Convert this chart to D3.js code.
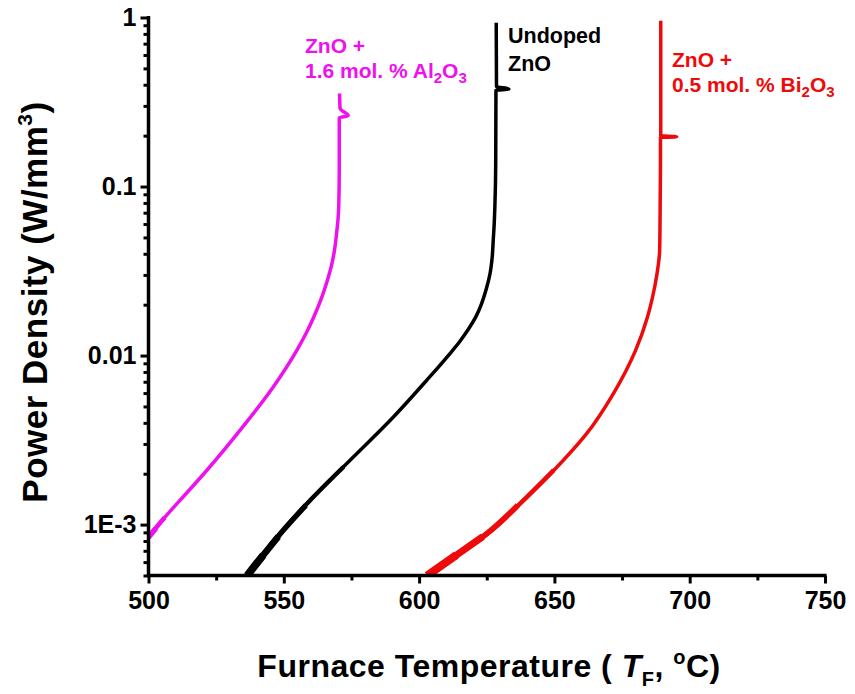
<!DOCTYPE html>
<html>
<head>
<meta charset="utf-8">
<script src="https://cdn.jsdelivr.net/npm/d3@7"></script>
<style>
  html, body { margin: 0; padding: 0; background: #fff; }
  text { font-family: Arial, "Liberation Sans", sans-serif; font-weight: bold; }
</style>
</head>
<body>
<svg id="chart" width="855" height="694"></svg>
<script>
// ---- data ----
const xTicksMajor = [500, 550, 600, 650, 700, 750];
const xTicksMinor = [525, 575, 625, 675, 725];
const yTicksMajor = [1, 0.1, 0.01, 0.001];
const yTickLabels = ["1", "0.1", "0.01", "1E-3"];

// ZnO + 1.6 mol.% Al2O3 (magenta)
const alTemp = [500, 505.5, 511.6, 521.5, 533.8, 546.1, 554.8, 558.2, 561.0, 563.6, 565.8, 567.5, 568.7, 569.5, 570.0, 570.3, 570.5, 570.5, 573.8, 570.8, 570.6];
const alPower = [0.00084, 0.00108, 0.00139, 0.00209, 0.00361, 0.00652, 0.01074, 0.0135, 0.0168, 0.0212, 0.0269, 0.0335, 0.0417, 0.0527, 0.0631, 0.0759, 0.13, 0.255, 0.262, 0.29, 0.355];

// Undoped ZnO (black)
const unTemp = [536.5, 541.4, 549.8, 560.9, 575.7, 590.5, 602.8, 611.4, 615.1, 618.2, 621.0, 623.1, 624.9, 626.2, 627.0, 627.4, 627.75, 628.0, 628.3, 628.4, 633.2, 628.6, 628.5];
const unPower = [0.0005, 0.00063, 0.000925, 0.001455, 0.00251, 0.00433, 0.00714, 0.01028, 0.01216, 0.0143, 0.0170, 0.0203, 0.0250, 0.0305, 0.0380, 0.0482, 0.0600, 0.0759, 0.13, 0.37, 0.378, 0.39, 0.93];

// ZnO + 0.5 mol.% Bi2O3 (red)
const biTemp = [603, 612.6, 625, 639.8, 652.1, 661.9, 671.8, 680.0, 684.4, 687.3, 688.3, 688.9, 689.1, 689.2, 689.2, 695.2, 689.3, 689.3];
const biPower = [0.0005, 0.000641, 0.000883, 0.001455, 0.00229, 0.00345, 0.00596, 0.01074, 0.01694, 0.0267, 0.0335, 0.042, 0.0832, 0.15, 0.195, 0.197, 0.2, 0.957];

const seriesNames = ["ZnO + 1.6 mol. % Al2O3", "Undoped ZnO", "ZnO + 0.5 mol. % Bi2O3"];
const seriesColors = ["#ee10ee", "#000000", "#ee0a0a"];
// low-signal (noisy) region: drawn as a band that thickens toward the bottom
const noiseLevels = [
  [[0.0011, 4.6], [0.00095, 5.4]],
  [[0.0022, 4.4], [0.0013, 5.4], [0.00085, 6.6], [0.00066, 7.6]],
  [[0.0021, 4.4], [0.0013, 5.6], [0.00085, 7.0], [0.00066, 8.2]]
];

// ---- scales ----
const svg = d3.select("#chart");
const x = d3.scaleLinear().domain([500, 750]).range([148.5, 825]);
const y = d3.scaleLog().domain([0.0005, 1]).range([575.5, 17.5]);

svg.append("defs").append("clipPath").attr("id", "plotClip")
  .append("rect").attr("x", 148.5).attr("y", 0).attr("width", 700).attr("height", 575.5);

// ---- curves ----
const series = [
  {t: alTemp, p: alPower},
  {t: unTemp, p: unPower},
  {t: biTemp, p: biPower}
];
const line = d3.line()
  .x(d => x(d[0])).y(d => y(d[1]))
  .curve(d3.curveMonotoneY);
const plot = svg.append("g").attr("clip-path", "url(#plotClip)");
series.forEach((s, i) => {
  const pts = s.t.map((t, k) => [t, s.p[k]]);
  plot.append("path")
    .attr("d", line(pts))
    .attr("fill", "none")
    .attr("stroke", seriesColors[i])
    .attr("stroke-width", 3.5)
    .attr("stroke-linejoin", "round")
    .attr("stroke-linecap", "butt");
  noiseLevels[i].forEach(([lim, w]) => {
    const low = pts.filter(d => d[1] <= lim);
    const next = pts.find(d => d[1] > lim);
    if (next && low.length) {
      const a = low[low.length - 1];
      const f = (Math.log(lim) - Math.log(a[1])) / (Math.log(next[1]) - Math.log(a[1]));
      low.push([a[0] + f * (next[0] - a[0]), lim]);
    }
    if (low.length > 1) {
      plot.append("path")
        .attr("d", line(low))
        .attr("fill", "none")
        .attr("stroke", seriesColors[i])
        .attr("stroke-width", w)
        .attr("stroke-linecap", "butt");
    }
  });
});

// ---- axes ----
const minorY = [];
[0.0001, 0.001, 0.01, 0.1].forEach(d => { for (let m = 2; m <= 9; m++) { const v = d * m; if (v >= 0.0005 && v < 1) minorY.push(v); } });

const yMinorAxis = d3.axisLeft(y).tickValues(minorY).tickSize(5).tickFormat("");
const yMajorAxis = d3.axisLeft(y).tickValues(yTicksMajor).tickSize(8).tickPadding(4)
  .tickFormat((d, i) => yTickLabels[i]);
const xMinorAxis = d3.axisBottom(x).tickValues(xTicksMinor).tickSize(5).tickFormat("");
const xMajorAxis = d3.axisBottom(x).tickValues(xTicksMajor).tickSize(8).tickPadding(8)
  .tickFormat(d3.format("d"));

function styleAxis(g) {
  g.select(".domain").remove();
  g.selectAll("line").attr("stroke", "#000").attr("stroke-width", 3);
  g.selectAll("text").attr("fill", "#000").style("font-size", "25px").style("font-family", "Arial, 'Liberation Sans', sans-serif").style("font-weight", "bold");
}
svg.append("g").attr("transform", "translate(148.5,0)").call(yMinorAxis).call(styleAxis);
svg.append("g").attr("transform", "translate(148.5,0)").call(yMajorAxis).call(styleAxis);
svg.append("g").attr("transform", "translate(0,575.5)").call(xMinorAxis).call(styleAxis);
svg.append("g").attr("transform", "translate(0,575.5)").call(xMajorAxis).call(styleAxis);

// axis lines
svg.append("line").attr("x1", 148.5).attr("x2", 148.5).attr("y1", 16).attr("y2", 577)
  .attr("stroke", "#000").attr("stroke-width", 3.5);
svg.append("line").attr("x1", 147).attr("x2", 826.5).attr("y1", 575.5).attr("y2", 575.5)
  .attr("stroke", "#000").attr("stroke-width", 3.5);

// ---- axis titles ----
const xt = svg.append("text").attr("x", 489).attr("y", 677).attr("text-anchor", "middle")
  .style("font-size", "32px").attr("letter-spacing", "0.5px");
xt.append("tspan").text("Furnace Temperature ( ");
xt.append("tspan").style("font-style", "italic").text("T");
xt.append("tspan").attr("dy", 9).style("font-size", "20px").text("F");
xt.append("tspan").attr("dy", -9).text(", ");
xt.append("tspan").attr("dy", -13).style("font-size", "20px").text("o");
xt.append("tspan").attr("dy", 13).text("C)");

const yt = svg.append("text").attr("transform", "translate(47,302) rotate(-90)").attr("text-anchor", "middle")
  .style("font-size", "35px").attr("letter-spacing", "0.5px");
yt.append("tspan").text("Power Density (W/mm");
yt.append("tspan").attr("dy", -15).style("font-size", "21px").text("3");
yt.append("tspan").attr("dy", 15).text(")");

// ---- annotations ----
function label(xp, yp, lines, color, fs) {
  lines.forEach((ln, li) => {
    const t = svg.append("text").attr("x", xp).attr("y", yp[li]).attr("fill", color).style("font-size", fs + "px");
    ln.forEach(part => {
      const ts = t.append("tspan").text(part.s);
      if (part.sub) ts.attr("dy", 5).style("font-size", "15px");
      if (part.back) ts.attr("dy", -5);
    });
  });
}
label(305, [53, 78], [
  [{s: "ZnO +"}],
  [{s: "1.6 mol. % Al"}, {s: "2", sub: true}, {s: "O", back: true}, {s: "3", sub: true}]
], seriesColors[0], 21);
label(508, [43, 71], [
  [{s: "Undoped"}],
  [{s: "ZnO"}]
], seriesColors[1], 21.5);
label(672, [67, 92], [
  [{s: "ZnO +"}],
  [{s: "0.5 mol. % Bi"}, {s: "2", sub: true}, {s: "O", back: true}, {s: "3", sub: true}]
], seriesColors[2], 21);
</script>
</body>
</html>
